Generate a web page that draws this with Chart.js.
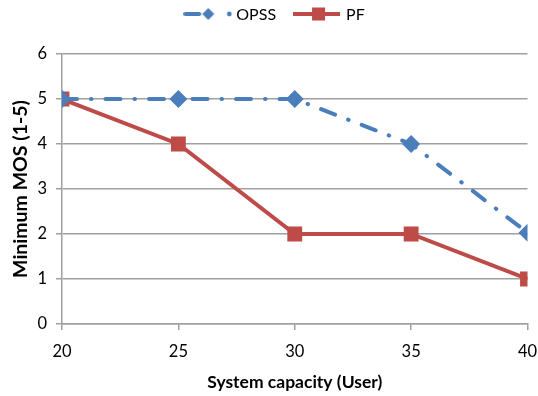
<!DOCTYPE html>
<html>
<head>
<meta charset="utf-8">
<script src="https://cdn.jsdelivr.net/npm/chart.js@4/dist/chart.umd.min.js"></script>
<style>
  html, body { margin: 0; padding: 0; background: #fff; }
  #wrap { width: 538px; height: 396px; }
</style>
</head>
<body>
<div id="wrap"><canvas id="mos-chart"></canvas></div>
<script>
// values
var capacity = [20, 25, 30, 35, 40];
var opss = [5, 5, 5, 4, 2.03];
var pf = [5, 4, 2, 2, 1];
var seriesNames = ['OPSS', 'PF'];

var BLUE = '#4A7EBB';
var RED = '#BE4B48';
var GRID = '#A0A0A0';
var FONT = 'Lato, "Open Sans", sans-serif';

// legend icons: line + marker, office style
function legendIcon(kind) {
    var c = document.createElement('canvas');
    c.width = 50;
    c.height = 16;
    var g = c.getContext('2d');
    g.lineWidth = 4;
    if (kind === 'opss') {
        g.strokeStyle = BLUE;
        g.fillStyle = BLUE;
        g.lineCap = 'round';
        g.beginPath(); g.moveTo(2, 8); g.lineTo(16, 8); g.stroke();
        g.beginPath(); g.arc(46, 8, 2.4, 0, Math.PI * 2); g.fill();
        g.beginPath();
        g.moveTo(25, 2); g.lineTo(31, 8); g.lineTo(25, 14); g.lineTo(19, 8);
        g.closePath(); g.fill();
    } else {
        g.strokeStyle = RED;
        g.fillStyle = RED;
        g.beginPath(); g.moveTo(0, 8); g.lineTo(47, 8); g.stroke();
        g.fillRect(19, 1.5, 13, 13);
    }
    return c;
}
var icons = [legendIcon('opss'), legendIcon('pf')];

// legend drawn by hand so the icons can show line + marker
var iconLegend = {
    id: 'iconLegend',
    afterDraw: function (chart) {
        var ctx = chart.ctx;
        var labels = chart.data.datasets.map(function (d) { return d.label; });
        ctx.save();
        ctx.font = '16px ' + FONT;
        ctx.textBaseline = 'middle';
        ctx.fillStyle = '#000';
        var gap = 3, itemGap = 17, y = 14;
        var widths = labels.map(function (t, i) { return icons[i].width + gap + ctx.measureText(t).width; });
        var total = widths.reduce(function (a, b) { return a + b; }, 0) + itemGap * (labels.length - 1);
        var x = chart.width / 2 + 5 - total / 2;
        labels.forEach(function (t, i) {
            ctx.drawImage(icons[i], x, y - icons[i].height / 2);
            ctx.fillText(t, x + icons[i].width + gap, y + 1);
            x += widths[i] + itemGap;
        });
        ctx.restore();
    }
};

new Chart(document.querySelector('#mos-chart').getContext('2d'), {
    type: 'line',
    data: {
        datasets: [
            {
                label: seriesNames[0],
                data: capacity.map(function (x, i) { return {x: x, y: opss[i]}; }),
                borderColor: BLUE,
                backgroundColor: BLUE,
                borderWidth: 4,
                borderDash: [15, 14, 0.5, 14],
                borderCapStyle: 'round',
                pointStyle: 'rectRot',
                pointRadius: 9,
                pointHoverRadius: 9,
                pointBorderWidth: 0,
                tension: 0
            },
            {
                label: seriesNames[1],
                data: capacity.map(function (x, i) { return {x: x, y: pf[i]}; }),
                borderColor: RED,
                backgroundColor: RED,
                borderWidth: 4,
                pointStyle: 'rect',
                pointRadius: 10.5,
                pointHoverRadius: 10.5,
                pointBorderWidth: 0,
                tension: 0
            }
        ]
    },
    options: {
        responsive: true,
        maintainAspectRatio: false,
        animation: false,
        layout: {padding: {top: 54, right: 7, bottom: 2, left: 0}},
        plugins: {
            tooltip: {enabled: false},
            legend: {display: false}
        },
        scales: {
            x: {
                type: 'linear',
                min: 20,
                max: 40,
                ticks: {stepSize: 5, color: '#000', font: {family: FONT, size: 16.5}, padding: 12},
                grid: {drawOnChartArea: false, drawTicks: true, tickLength: 6, color: GRID, lineWidth: 1.5},
                border: {color: GRID, width: 1.5},
                title: {display: true, text: 'System capacity (User)', color: '#000',
                        font: {family: FONT, size: 17.5, weight: 'bold'}, padding: {top: 0, bottom: 1.5}},
                afterFit: function (scale) {
                    scale.height = 70;
                    scale.paddingLeft = 0;
                    scale.paddingRight = 0;
                }
            },
            y: {
                min: 0,
                max: 6,
                ticks: {stepSize: 1, color: '#000', font: {family: FONT, size: 16.5}, padding: 9},
                grid: {color: GRID, tickLength: 6, lineWidth: 1.5},
                border: {color: GRID, width: 1.5},
                title: {display: true, text: 'Minimum MOS (1-5)', color: '#000',
                        font: {family: FONT, size: 19.5, weight: 'bold'}, padding: {top: 9, bottom: 0}},
                afterFit: function (scale) { scale.width = 62; }
            }
        }
    },
    plugins: [iconLegend]
});
</script>
</body>
</html>
